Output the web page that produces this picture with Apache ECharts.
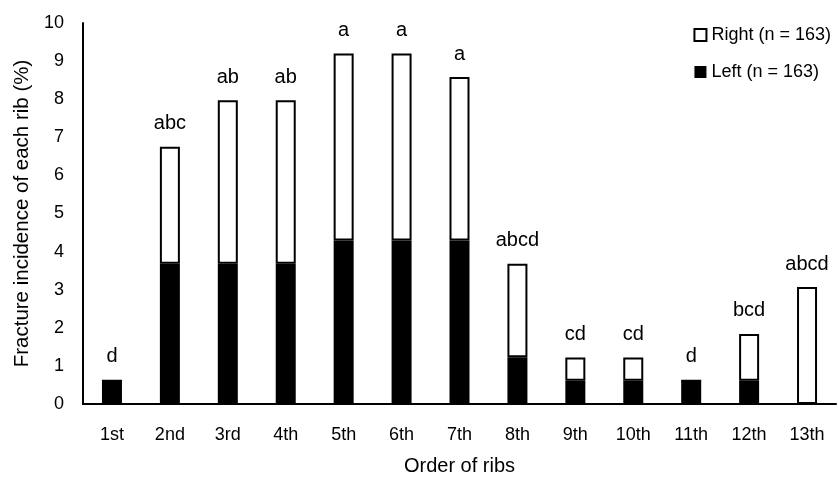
<!DOCTYPE html>
<html><head><meta charset="utf-8">
<script src="https://cdn.jsdelivr.net/npm/echarts@6/dist/echarts.min.js"></script>
<style>html,body{margin:0;padding:0;background:#fff}#c{width:838px;height:481px}</style>
</head><body><div id="c"></div>
<script>
const categories = ['1st','2nd','3rd','4th','5th','6th','7th','8th','9th','10th','11th','12th','13th'];
const leftValues = [0.61,3.68,3.68,3.68,4.29,4.29,4.29,1.23,0.61,0.61,0.61,0.61,0];
const rightValues = [0,3.07,4.29,4.29,4.91,4.91,4.29,2.45,0.61,0.61,0,1.23,3.07];
const letters = ['d','abc','ab','ab','a','a','a','abcd','cd','cd','d','bcd','abcd'];
const yTicks = [0,1,2,3,4,5,6,7,8,9,10];

const font = 'Liberation Sans, Arial, sans-serif';
const chart = echarts.init(document.getElementById('c'));
chart.setOption({
  animation: false,
  grid: {left: 83, right: 2, top: 23, bottom: 73},
  legend: {
    orient: 'vertical', right: 2, top: 21, itemWidth: 12, itemHeight: 12, itemGap: 19,
    icon: 'rect',
    textStyle: {fontFamily: font, fontSize: 18, color: '#000'},
    data: [
      {name: 'Right (n = 163)', itemStyle: {color: '#fff', borderColor: '#000', borderWidth: 2}},
      {name: 'Left (n = 163)', itemStyle: {color: '#000', borderColor: '#000', borderWidth: 0}}
    ]
  },
  xAxis: {
    type: 'category', data: categories,
    name: 'Order of ribs', nameLocation: 'middle', nameGap: 52,
    nameTextStyle: {fontFamily: font, fontSize: 20, color: '#000'},
    axisLine: {lineStyle: {color: '#000', width: 2}},
    axisTick: {show: false},
    axisLabel: {fontFamily: font, fontSize: 18, color: '#000', margin: 22}
  },
  yAxis: {
    type: 'value', min: 0, max: 10, interval: 1,
    name: 'Fracture incidence of each rib (%)', nameLocation: 'middle', nameGap: 49,
    nameTextStyle: {fontFamily: font, fontSize: 20.5, color: '#000'},
    axisLine: {show: true, lineStyle: {color: '#000', width: 2}},
    axisTick: {show: false},
    splitLine: {show: false},
    axisLabel: {fontFamily: font, fontSize: 18, color: '#000', margin: 19,
      formatter: v => yTicks.includes(v) ? String(v) : ''}
  },
  series: [
    {
      name: 'Left (n = 163)', type: 'bar', stack: 's', data: leftValues, barWidth: 20,
      itemStyle: {color: '#000'}
    },
    {
      name: 'Right (n = 163)', type: 'bar', stack: 's', data: rightValues, barWidth: 20,
      itemStyle: {color: '#fff', borderColor: '#000', borderWidth: 2},
      label: {show: true, position: 'top', distance: 13, fontFamily: font, fontSize: 20, color: '#000',
        formatter: p => letters[p.dataIndex]}
    }
  ]
});
</script></body></html>
